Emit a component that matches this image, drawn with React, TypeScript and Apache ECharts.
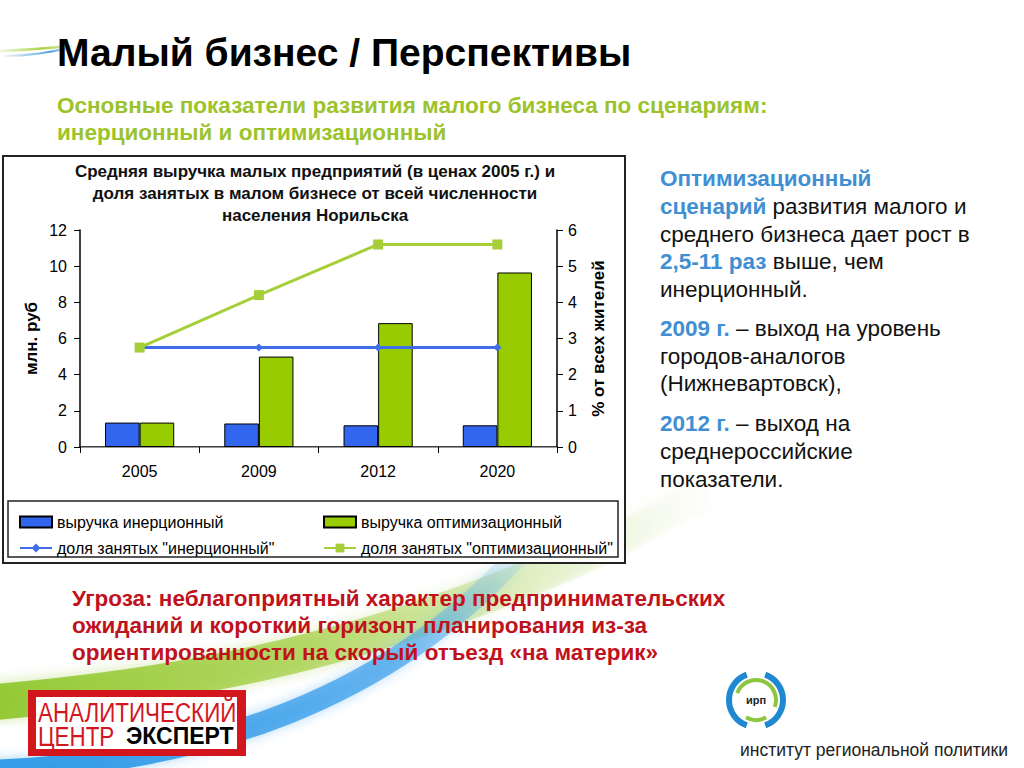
import React, { useEffect, useRef } from "react";
import * as echarts from "echarts";

const categories = ["2005", "2009", "2012", "2020"];
const revenueInertial = [1.35, 1.3, 1.2, 1.2];
const revenueOptim = [1.35, 5.0, 6.85, 9.65];
const shareInertial = [2.75, 2.75, 2.75, 2.75];
const shareOptim = [2.75, 4.2, 5.6, 5.6];

const leftAxis = { min: 0, max: 12, interval: 2, name: "млн. руб" };
const rightAxis = { min: 0, max: 6, interval: 1, name: "% от всех жителей" };

const seriesNames = [
  "выручка инерционный",
  "выручка оптимизационный",
  'доля занятых "инерционный"',
  'доля занятых "оптимизационный"',
];

const slideTitle = "Малый бизнес / Перспективы";
const slideSubtitle = [
  "Основные показатели развития малого бизнеса по сценариям:",
  "инерционный и оптимизационный",
];
const chartTitle = [
  "Средняя выручка малых предприятий (в ценах 2005 г.) и",
  "доля занятых в малом бизнесе от всей численности",
  "населения Норильска",
];
const sideText = [
  "{b|Оптимизационный}",
  "{b|сценарий} развития малого и",
  "среднего бизнеса дает рост в",
  "{b|2,5-11 раз} выше, чем",
  "инерционный.",
  "{b|2009 г.} – выход на уровень",
  "городов-аналогов",
  "(Нижневартовск),",
  "{b|2012 г.} – выход на",
  "среднероссийские",
  "показатели.",
];
const sideTextY = [178, 206, 234, 261, 289, 328, 356, 383, 423, 451, 479];
const threatText = [
  "Угроза: неблагоприятный характер предпринимательских",
  "ожиданий и короткий горизонт планирования из-за",
  "ориентированности на скорый отъезд «на материк»",
];

const SANS = "'Liberation Sans', Arial, sans-serif";

const BLUE_BAR = "#3366EE";
const GREEN_BAR = "#99CC00";
const BLUE_LINE = "#3F6FE8";
const GREEN_LINE = "#A6CE39";

export default function App() {
  const ref = useRef<HTMLDivElement>(null);

  useEffect(() => {
    if (!ref.current) return;
    const chart = echarts.init(ref.current, null, { renderer: "svg" });

    const graphics: any[] = [];

    // background swooshes
    graphics.push({
      type: "bezierCurve",
      silent: true,
      z: -10,
      shape: { x1: -40, y1: 705, cpx1: 220, cpy1: 685, cpx2: 430, cpy2: 640, x2: 720, y2: 490 },
      style: {
        fill: "none",
        lineWidth: 36,
        stroke: new echarts.graphic.LinearGradient(0, 0, 1, 0, [
          { offset: 0, color: "rgba(140,198,40,0.95)" },
          { offset: 0.45, color: "rgba(160,205,60,0.7)" },
          { offset: 0.75, color: "rgba(190,220,120,0.3)" },
          { offset: 1, color: "rgba(220,235,190,0)" },
        ]),
        shadowBlur: 14,
        shadowColor: "rgba(170,210,90,0.6)",
      },
    });
    graphics.push({
      type: "bezierCurve",
      silent: true,
      z: -9,
      shape: { x1: -40, y1: 736, cpx1: 220, cpy1: 720, cpx2: 420, cpy2: 680, x2: 700, y2: 520 },
      style: {
        fill: "none",
        lineWidth: 10,
        stroke: "rgba(255,255,255,0.85)",
        shadowBlur: 8,
        shadowColor: "rgba(255,255,255,0.9)",
      },
    });
    graphics.push({
      type: "bezierCurve",
      silent: true,
      z: -8,
      shape: { x1: -40, y1: 772, cpx1: 200, cpy1: 768, cpx2: 400, cpy2: 700, x2: 540, y2: 530 },
      style: {
        fill: "none",
        lineWidth: 22,
        stroke: new echarts.graphic.LinearGradient(0, 1, 1, 0, [
          { offset: 0, color: "rgba(40,150,230,0.95)" },
          { offset: 0.6, color: "rgba(60,160,235,0.7)" },
          { offset: 1, color: "rgba(120,190,240,0)" },
        ]),
        shadowBlur: 12,
        shadowColor: "rgba(60,160,235,0.5)",
      },
    });
    // top-left small swoosh
    graphics.push({
      type: "bezierCurve",
      silent: true,
      shape: { x1: 0, y1: 51, cpx1: 25, cpy1: 50, cpx2: 45, cpy2: 48, x2: 72, y2: 46 },
      style: {
        fill: "none",
        lineWidth: 2.5,
        stroke: new echarts.graphic.LinearGradient(0, 0, 1, 0, [
          { offset: 0, color: "rgba(170,210,60,0.2)" },
          { offset: 0.6, color: "rgba(160,205,50,0.9)" },
          { offset: 1, color: "rgba(160,205,50,0.3)" },
        ]),
      },
    });
    graphics.push({
      type: "bezierCurve",
      silent: true,
      shape: { x1: 5, y1: 56, cpx1: 30, cpy1: 56, cpx2: 50, cpy2: 52, x2: 70, y2: 48 },
      style: {
        fill: "none",
        lineWidth: 2,
        stroke: new echarts.graphic.LinearGradient(0, 0, 1, 0, [
          { offset: 0, color: "rgba(60,150,220,0.1)" },
          { offset: 0.7, color: "rgba(60,150,220,0.85)" },
          { offset: 1, color: "rgba(60,150,220,0.2)" },
        ]),
      },
    });

    // slide title & subtitle
    graphics.push({
      type: "text",
      x: 57,
      y: 52,
      style: {
        text: slideTitle,
        fill: "#000",
        font: `bold 39px ${SANS}`,
        textVerticalAlign: "middle",
      },
    });
    slideSubtitle.forEach((t, i) => {
      graphics.push({
        type: "text",
        x: 57,
        y: 105 + i * 27,
        style: {
          text: t,
          fill: "#9CC32B",
          font: `bold 22.5px ${SANS}`,
          textVerticalAlign: "middle",
        },
      });
    });

    // chart frame
    graphics.push({
      type: "rect",
      shape: { x: 3, y: 156, width: 622, height: 407 },
      style: { fill: "#fff", stroke: "#222", lineWidth: 2 },
      z: -1,
    });
    // legend box
    graphics.push({
      type: "rect",
      shape: { x: 8, y: 501, width: 610, height: 56 },
      style: { fill: "#fff", stroke: "#222", lineWidth: 1.5 },
      z: -1,
    });
    chartTitle.forEach((t, i) => {
      graphics.push({
        type: "text",
        x: 315,
        y: 171 + i * 22,
        style: {
          text: t,
          fill: "#111",
          font: `bold 17px ${SANS}`,
          textAlign: "center",
          textVerticalAlign: "middle",
        },
      });
    });

    // side text
    sideText.forEach((t, i) => {
      graphics.push({
        type: "text",
        x: 660,
        y: sideTextY[i],
        style: {
          text: t,
          fill: "#111",
          fontSize: 22.5,
          fontFamily: SANS,
          textVerticalAlign: "middle",
          rich: {
            b: { fill: "#3F8FD2", fontWeight: "bold", fontSize: 22.5, fontFamily: SANS },
          },
        },
      });
    });

    // threat text
    threatText.forEach((t, i) => {
      graphics.push({
        type: "text",
        x: 72,
        y: 598 + i * 27,
        style: {
          text: t,
          fill: "#C0121C",
          font: `bold 22.5px ${SANS}`,
          textVerticalAlign: "middle",
        },
      });
    });

    // logo: Аналитический центр Эксперт
    graphics.push({
      type: "rect",
      shape: { x: 28, y: 690, width: 218, height: 66 },
      style: { fill: "#D3161E" },
    });
    graphics.push({
      type: "rect",
      shape: { x: 36, y: 697, width: 201, height: 52 },
      style: { fill: "#fff" },
    });
    graphics.push({
      type: "text",
      x: 38,
      y: 712,
      scaleX: 0.8,
      style: {
        text: "АНАЛИТИЧЕСКИЙ",
        fill: "#D3161E",
        font: `28px ${SANS}`,
        textVerticalAlign: "middle",
      },
    });
    graphics.push({
      type: "text",
      x: 38,
      y: 736,
      scaleX: 0.8,
      style: {
        text: "ЦЕНТР",
        fill: "#D3161E",
        font: `28px ${SANS}`,
        textVerticalAlign: "middle",
      },
    });
    graphics.push({
      type: "text",
      x: 126,
      y: 736,
      style: {
        text: "ЭКСПЕРТ",
        fill: "#000",
        font: `bold 23px ${SANS}`,
        textVerticalAlign: "middle",
      },
    });

    // logo: ИРП
    const cx = 756;
    const cy = 700;
    graphics.push({
      type: "arc",
      shape: { cx, cy, r: 27, startAngle: (110 * Math.PI) / 180, endAngle: (250 * Math.PI) / 180 },
      style: { stroke: "#1E88D0", lineWidth: 6, fill: "none" },
    });
    graphics.push({
      type: "arc",
      shape: { cx, cy, r: 27, startAngle: (-70 * Math.PI) / 180, endAngle: (70 * Math.PI) / 180 },
      style: { stroke: "#1E88D0", lineWidth: 6, fill: "none" },
    });
    graphics.push({
      type: "arc",
      shape: { cx, cy, r: 20, startAngle: (200 * Math.PI) / 180, endAngle: (380 * Math.PI) / 180 },
      style: { stroke: "#8CC63F", lineWidth: 4, fill: "none" },
    });
    graphics.push({
      type: "arc",
      shape: { cx, cy, r: 20, startAngle: (60 * Math.PI) / 180, endAngle: (120 * Math.PI) / 180 },
      style: { stroke: "#8CC63F", lineWidth: 4, fill: "none" },
    });
    graphics.push({
      type: "text",
      x: cx,
      y: cy,
      style: {
        text: "ирп",
        fill: "#222",
        font: `bold 11px ${SANS}`,
        textAlign: "center",
        textVerticalAlign: "middle",
      },
    });
    graphics.push({
      type: "text",
      x: 740,
      y: 750,
      style: {
        text: "институт региональной политики",
        fill: "#222",
        font: `17.5px ${SANS}`,
        textVerticalAlign: "middle",
      },
    });

    const axisText = { color: "#000", fontSize: 16, fontFamily: SANS };
    const legendCommon = {
      orient: "vertical",
      top: 509,
      itemWidth: 32,
      itemHeight: 11,
      itemGap: 10,
      textStyle: { ...axisText, lineHeight: 16 },
    };

    chart.setOption({
      animation: false,
      backgroundColor: "#fff",
      grid: { left: 80, right: 467, top: 230, bottom: 321, containLabel: false },
      legend: [
        {
          ...legendCommon,
          left: 14,
          data: [{ name: seriesNames[0], icon: "rect" }, { name: seriesNames[2] }],
        },
        {
          ...legendCommon,
          left: 318,
          data: [{ name: seriesNames[1], icon: "rect" }, { name: seriesNames[3] }],
        },
      ],
      xAxis: [
        {
          type: "category",
          data: categories,
          axisLine: { lineStyle: { color: "#000", width: 1.5 } },
          axisTick: { show: true, length: 6, lineStyle: { color: "#000" } },
          axisLabel: { ...axisText, margin: 16 },
        },
        {
          type: "category",
          data: categories,
          position: "top",
          axisLine: { lineStyle: { color: "#999", width: 1 } },
          axisTick: { show: false },
          axisLabel: { show: false },
        },
      ],
      yAxis: [
        {
          type: "value",
          min: leftAxis.min,
          max: leftAxis.max,
          interval: leftAxis.interval,
          name: leftAxis.name,
          nameLocation: "middle",
          nameRotate: 90,
          nameGap: 40,
          nameTextStyle: { color: "#000", fontSize: 17, fontWeight: "bold", fontFamily: SANS },
          axisLine: { show: true, lineStyle: { color: "#000", width: 1.5 } },
          axisTick: { show: true, length: 6, lineStyle: { color: "#000" } },
          axisLabel: { ...axisText, margin: 13 },
          splitLine: { show: false },
        },
        {
          type: "value",
          min: rightAxis.min,
          max: rightAxis.max,
          interval: rightAxis.interval,
          name: rightAxis.name,
          nameLocation: "middle",
          nameRotate: 90,
          nameGap: 33,
          nameTextStyle: { color: "#000", fontSize: 17, fontWeight: "bold", fontFamily: SANS },
          position: "right",
          axisLine: { show: true, lineStyle: { color: "#000", width: 1.5 } },
          axisTick: { show: true, length: 6, lineStyle: { color: "#000" } },
          axisLabel: { ...axisText, margin: 11 },
          splitLine: { show: false },
        },
      ],
      series: [
        {
          name: seriesNames[0],
          type: "bar",
          data: revenueInertial,
          barWidth: "29%",
          barGap: "0%",
          itemStyle: { color: BLUE_BAR, borderColor: "#000", borderWidth: 1 },
        },
        {
          name: seriesNames[1],
          type: "bar",
          data: revenueOptim,
          barWidth: "29%",
          barGap: "0%",
          itemStyle: { color: GREEN_BAR, borderColor: "#000", borderWidth: 1 },
        },
        {
          name: seriesNames[2],
          type: "line",
          yAxisIndex: 1,
          data: shareInertial,
          symbol: "diamond",
          symbolSize: 8,
          lineStyle: { color: BLUE_LINE, width: 3 },
          itemStyle: { color: BLUE_LINE },
          z: 3,
        },
        {
          name: seriesNames[3],
          type: "line",
          yAxisIndex: 1,
          data: shareOptim,
          symbol: "rect",
          symbolSize: 10,
          lineStyle: { color: GREEN_LINE, width: 3 },
          itemStyle: { color: GREEN_LINE },
          z: 3,
        },
      ],
      graphic: graphics,
    });

    return () => chart.dispose();
  }, []);

  return (
    <div
      ref={ref}
      style={{ position: "absolute", left: 0, top: 0, width: 1024, height: 768 }}
    />
  );
}
